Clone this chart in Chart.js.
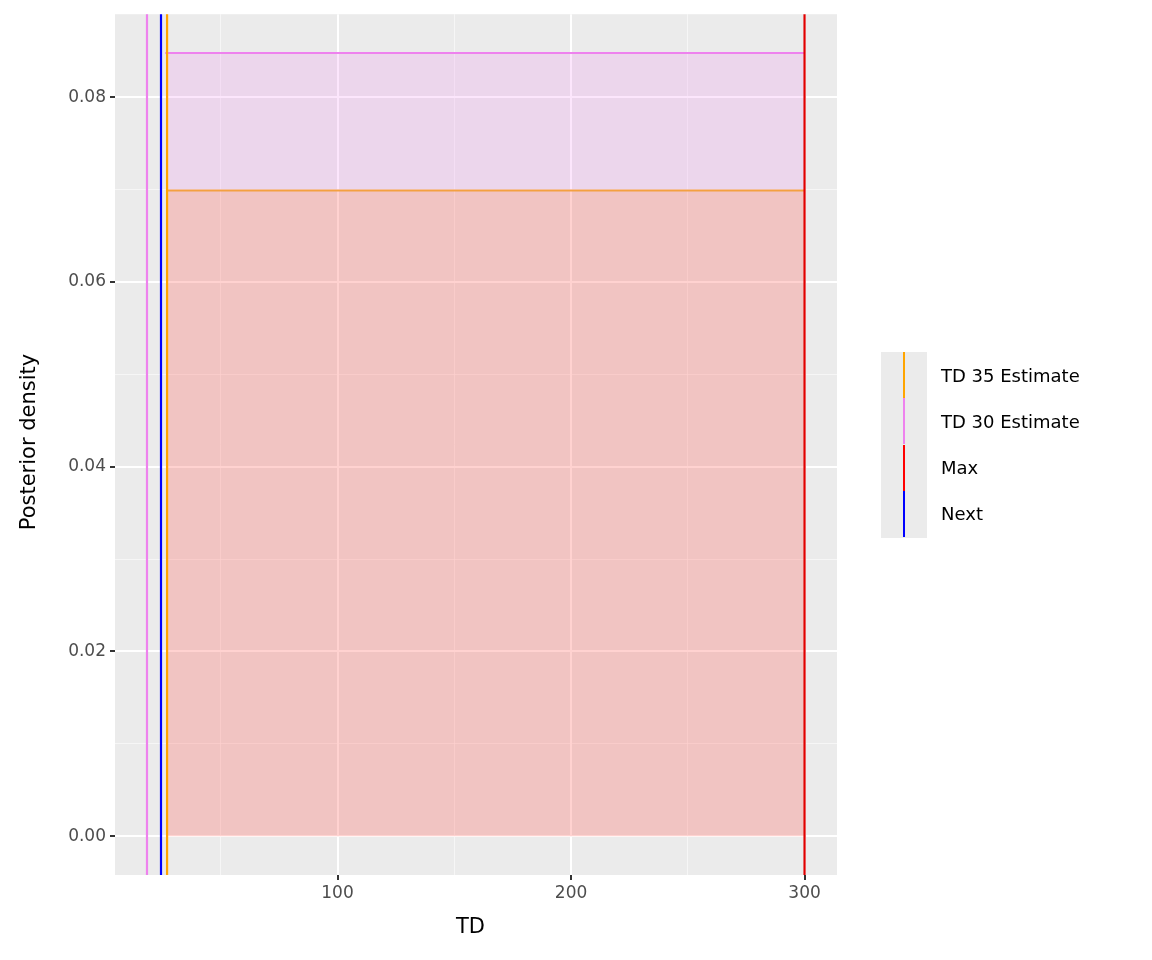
<!DOCTYPE html>
<html><head><meta charset="utf-8">
<script src="https://cdn.jsdelivr.net/npm/chart.js@4/dist/chart.umd.min.js"></script>
<style>
body{margin:0;background:#fff;font-family:"DejaVu Sans",sans-serif;}
#wrap{position:relative;width:1152px;height:960px;}
.t{position:absolute;color:#000;font-size:21px;white-space:nowrap;}
#leg{position:absolute;left:881px;top:352px;width:46px;height:186px;background:#EBEBEB;}
.li{position:absolute;left:941px;font-size:18px;color:#000;white-space:nowrap;}
.ln{position:absolute;left:903px;width:2px;height:46px;}
</style></head><body>
<div id="wrap">
<canvas id="c" width="1152" height="960"></canvas>
<div class="t" style="left:456px;top:914px;">TD</div>
<div class="t" style="left:-72px;top:430px;transform:rotate(-90deg);width:200px;text-align:center;">Posterior density</div>
<div id="leg"></div>
<div class="ln" style="top:352px;background:#FFA500"></div>
<div class="ln" style="top:398px;background:#EE82EE"></div>
<div class="ln" style="top:445px;background:#FF0000"></div>
<div class="ln" style="top:491px;background:#0000FF"></div>
<div class="li" style="top:365px">TD 35 Estimate</div>
<div class="li" style="top:411px">TD 30 Estimate</div>
<div class="li" style="top:457px">Max</div>
<div class="li" style="top:503px">Next</div>
</div>
<script>
const xMin = 4.7, xMax = 313.9, yMin = -0.0042, yMax = 0.089;
const xMajor = [100, 200, 300], xMinor = [50, 150, 250];
const yMajor = [0, 0.02, 0.04, 0.06, 0.08], yMinor = [0.01, 0.03, 0.05, 0.07];
const td30Range = [26.2, 300], td30Density = 0.0848;
const td35Range = [27, 300], td35Density = 0.0699;
const vLines = [
  {name: "TD 30 Estimate", x: 18.4, color: "#EE82EE"},
  {name: "Next", x: 24.4, color: "#0000FF"},
  {name: "TD 35 Estimate", x: 27, color: "#FFA500"},
  {name: "Max", x: 300, color: "#E00000"}
];
const majSet = new Set([...xMajor, ...yMajor].map(String));
function isMajor(v){ return majSet.has(String(v)); }
const gridColor = c => isMajor(c.tick && c.tick.value) ? '#FFFFFF' : 'rgba(255,255,255,0.55)';
const datasets = [
  {data: td35Range.map(x => ({x, y: td35Density})), borderColor: '#F4A040', borderWidth: 2,
   backgroundColor: 'rgba(255,105,98,0.3)', fill: 'origin', pointRadius: 0, order: 5},
  {data: td30Range.map(x => ({x, y: td30Density})), borderColor: '#EE82EE', borderWidth: 2,
   backgroundColor: 'rgba(238,130,238,0.2)', fill: 0, pointRadius: 0, order: 6},
  ...vLines.map(l => ({data: [{x: l.x, y: -1}, {x: l.x, y: 1}], borderColor: l.color, borderWidth: 2.2, pointRadius: 0, fill: false, order: 1}))
];
const bg = {id: 'bg', beforeDraw(ch){ const a = ch.chartArea, g = ch.ctx; g.save(); g.fillStyle = '#EBEBEB'; g.fillRect(a.left, a.top, a.right - a.left, a.bottom - a.top); g.restore(); }};
new Chart(document.getElementById('c'), {
  type: 'line', data: {datasets},
  plugins: [bg],
  options: {
    responsive: false, animation: false, devicePixelRatio: 1,
    layout: {padding: {top: 14, right: 315, left: 0, bottom: 0}},
    plugins: {legend: {display: false}, tooltip: {enabled: false}},
    scales: {
      x: {type: 'linear', min: xMin, max: xMax,
        afterBuildTicks: s => { s.ticks = [...xMinor, ...xMajor].sort((a,b)=>a-b).map(v => ({value: v})); },
        afterFit: s => { s.height = 85; },
        ticks: {color: '#4D4D4D', font: {size: 17, family: 'DejaVu Sans'}, padding: 3,
          callback: v => xMajor.includes(v) ? String(v) : ''},
        grid: {color: gridColor, lineWidth: c => isMajor(c.tick && c.tick.value) ? 2 : 1, drawTicks: true, tickLength: 5,
          tickColor: c => isMajor(c.tick && c.tick.value) ? '#333333' : 'rgba(0,0,0,0)'},
        border: {display: false}},
      y: {type: 'linear', min: yMin, max: yMax,
        afterBuildTicks: s => { s.ticks = [...yMinor, ...yMajor].sort((a,b)=>a-b).map(v => ({value: v})); },
        afterFit: s => { s.width = 115; },
        ticks: {color: '#4D4D4D', font: {size: 17, family: 'DejaVu Sans'}, padding: 4,
          callback: v => yMajor.includes(v) ? v.toFixed(2) : ''},
        grid: {color: gridColor, lineWidth: c => isMajor(c.tick && c.tick.value) ? 2 : 1, drawTicks: true, tickLength: 5,
          tickColor: c => isMajor(c.tick && c.tick.value) ? '#333333' : 'rgba(0,0,0,0)'},
        border: {display: false}}
    }
  }
});
</script>
</body></html>
